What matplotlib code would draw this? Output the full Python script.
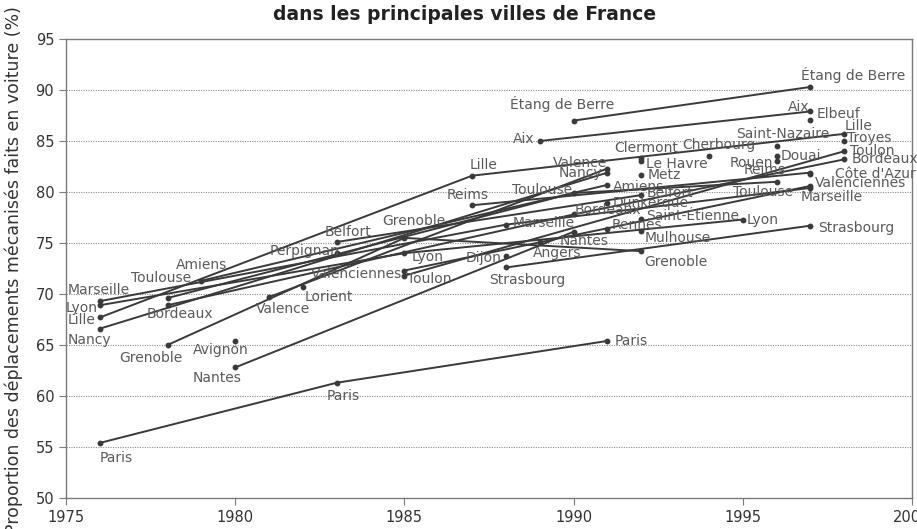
import matplotlib
matplotlib.use("Agg")
import matplotlib.pyplot as plt

# ── données ─────────────────────────────────────────────────────────────
cities = [
    "Paris", "Lyon", "Marseille", "Lille", "Nancy", "Toulouse", "Bordeaux",
    "Grenoble", "Amiens", "Nantes", "Avignon", "Valence", "Lorient",
    "Perpignan", "Belfort", "Valenciennes", "Toulon", "Reims", "Dijon",
    "Strasbourg", "Angers", "Aix", "Étang de Berre", "Dunkerque", "Rennes",
    "Clermont", "Le Havre", "Metz", "Saint-Étienne", "Mulhouse", "Cherbourg",
    "Saint-Nazaire", "Rouen", "Douai", "Côte d'Azur", "Elbeuf", "Troyes",
]
years = [
    [1976, 1983, 1991], [1976, 1985, 1995], [1976, 1988, 1997],
    [1976, 1987, 1998], [1976, 1991], [1978, 1990, 1996], [1978, 1990, 1998],
    [1978, 1985, 1992], [1979, 1991], [1980, 1990], [1980], [1981, 1991],
    [1982], [1983], [1983, 1992], [1985, 1997], [1985, 1998], [1987, 1997],
    [1988], [1988, 1997], [1989], [1989, 1997], [1990, 1997], [1991], [1991],
    [1992], [1992], [1992], [1992], [1992], [1994],
    [1996], [1996], [1996], [1997], [1997], [1998],
]
values = [
    [55.4, 61.3, 65.4], [68.9, 74.0, 77.3], [69.3, 76.8, 80.4],
    [67.7, 81.6, 85.7], [66.6, 81.9], [69.6, 79.9, 81.0], [68.9, 77.8, 83.2],
    [65.0, 75.5, 74.2], [71.3, 80.7], [62.8, 76.1], [65.4], [69.7, 82.3],
    [70.7], [74.0], [75.1, 79.7], [72.3, 80.6], [71.8, 84.0], [78.7, 81.9],
    [73.7], [72.6, 76.7], [75.1], [85.0, 87.9], [87.0, 90.3], [78.9], [76.4],
    [83.3], [83.0], [81.7], [77.4], [76.2], [83.5],
    [84.5], [83.0], [83.5], [81.8], [87.1], [85.0],
]

# placement des étiquettes (dx, dy en pixels, alignement)
label_pos = [
    [(0, -15, "left"), (-10, -13, "left"), (7, 0, "left")],
    [(-2, -3, "right"), (7, -4, "left"), (4, 0, "left")],
    [(-32, 11, "left"), (7, 2, "left"), (-10, -9, "left")],
    [(-4, -3, "right"), (-2, 11, "left"), (0, 8, "left")],
    [(-32, -11, "left"), (-5, 0, "right")],
    [(-6, 20, "center"), (-1, 3, "right"), (-14, -10, "center")],
    [(12, -9, "center"), (1, 4, "left"), (7, 0, "left")],
    [(-17, -13, "center"), (9, 17, "center"), (3, -11, "left")],
    [(0, 16, "center"), (5, -2, "left")],
    [(-18, -11, "center"), (-14, -9, "left")],
    [(-14, -9, "center")],
    [(14, -12, "center"), (0, 6, "right")],
    [(2, -10, "left")],
    [(3, 2, "right")],
    [(-12, 10, "left"), (5, 2, "left")],
    [(-2, -3, "right"), (4, 3, "left")],
    [(3, -3, "left"), (6, 0, "left")],
    [(-4, 10, "center"), (-25, 3, "right")],
    [(-4, -2, "right")],
    [(21, -13, "center"), (8, -2, "left")],
    [(-7, -11, "left")],
    [(-5, 2, "right"), (-1, 4, "right")],
    [(-11, 17, "center"), (-9, 12, "left")],
    [(5, 0, "left")], [(4, 4, "left")],
    [(5, 10, "center")], [(5, -3, "left")], [(6, 0, "left")],
    [(5, 3, "left")], [(3, -7, "left")], [(10, 11, "center")],
    [(6, 12, "center")], [(-4, -2, "right")], [(4, 0, "left")],
    [(25, 0, "left")], [(6, 6, "left")], [(3, 3, "left")],
]

line_col = "#3a3a3a"
text_col = "#5a5a5a"

fig = plt.figure(figsize=(9.17, 5.29), dpi=100)
ax = fig.add_axes([66 / 917, 1 - 498 / 529, 846 / 917, 459 / 529])

for name, xs, ys, pos in zip(cities, years, values, label_pos):
    ax.plot(xs, ys, color=line_col, lw=1.4, marker="o", ms=3.2,
            solid_capstyle="round", zorder=3)
    for x, y, (dx, dy, ha) in zip(xs, ys, pos):
        ax.annotate(name, (x, y), xytext=(dx, dy), textcoords="offset pixels",
                    ha=ha, va="center", fontsize=10, color=text_col, zorder=4)

ax.set_xlim(1975, 2000)
ax.set_ylim(50, 95)
ax.set_xticks(range(1975, 2001, 5))
ax.set_yticks(range(50, 96, 5))
for v in range(55, 95, 5):
    ax.axhline(v, color="#8a8a8a", lw=0.8, ls=(0, (1, 1.2)), zorder=1)

for s in ax.spines.values():
    s.set_color("#7a7a7a")
    s.set_linewidth(1.0)
ax.tick_params(direction="out", length=5, color="#7a7a7a",
               labelsize=10.5, labelcolor="#333333")

fig.text(0.015, 0.49, "Proportion des déplacements mécanisés faits en voiture (%)",
         rotation=90, ha="center", va="center", fontsize=12.5, color="#333333")
fig.text(0.507, 0.972, "dans les principales villes de France",
         ha="center", va="center", fontsize=13.5, fontweight="bold", color="#222222")

fig.savefig("out.png", dpi=100)
